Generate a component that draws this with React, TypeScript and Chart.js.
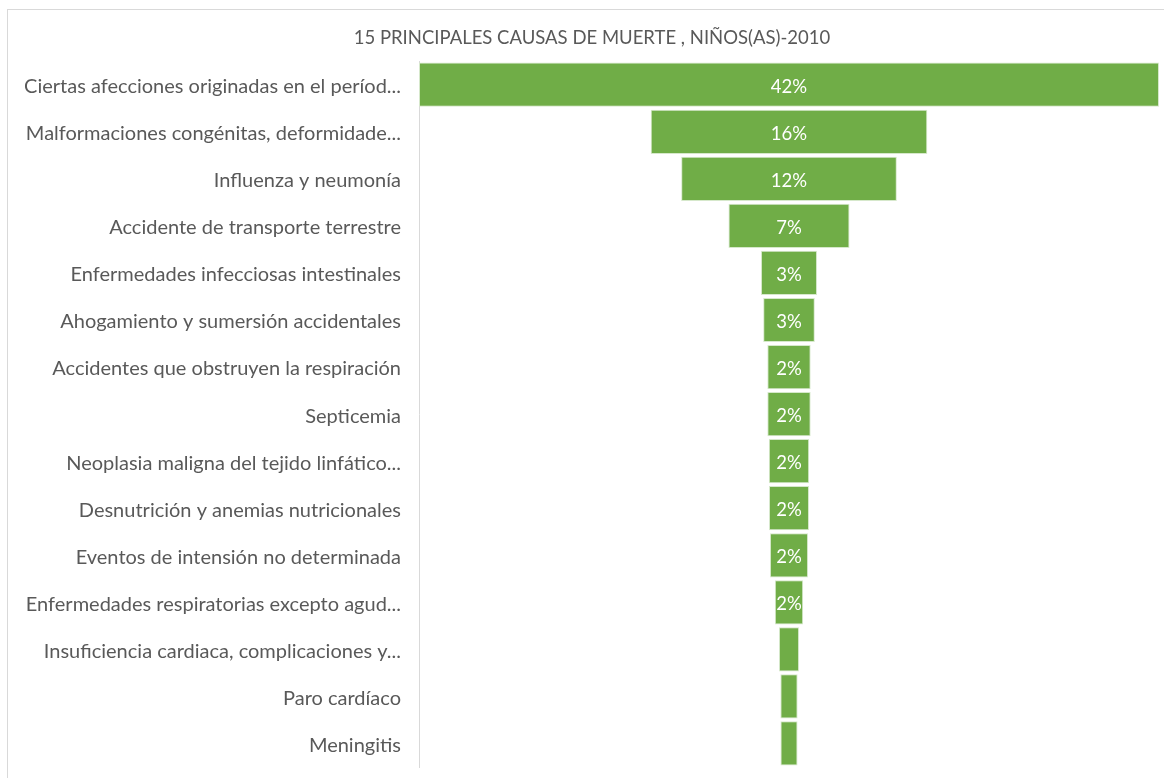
import React, { useEffect, useRef } from "react";
import { Chart, registerables } from "chart.js";

Chart.register(...registerables);

const TITLE = "15 PRINCIPALES CAUSAS DE MUERTE , NIÑOS(AS)-2010";

const categories = [
  "Ciertas afecciones originadas en el períod...",
  "Malformaciones congénitas, deformidade...",
  "Influenza y neumonía",
  "Accidente de transporte terrestre",
  "Enfermedades infecciosas intestinales",
  "Ahogamiento y sumersión accidentales",
  "Accidentes que obstruyen la respiración",
  "Septicemia",
  "Neoplasia maligna del tejido linfático...",
  "Desnutrición y anemias nutricionales",
  "Eventos de intensión no determinada",
  "Enfermedades respiratorias excepto agud...",
  "Insuficiencia cardiaca, complicaciones y...",
  "Paro cardíaco",
  "Meningitis",
];

const shares = [42, 15.7, 12.24, 6.87, 3.18, 2.93, 2.46, 2.46, 2.29, 2.27, 2.16, 1.61, 1.14, 0.98, 0.97];

const shareLabels = ["42%", "16%", "12%", "7%", "3%", "3%", "2%", "2%", "2%", "2%", "2%", "2%", "", "", ""];

const FONT = "Lato, 'Open Sans', sans-serif";

const labelPlugin = {
  id: "funnelLabels",
  afterDatasetsDraw(chart: any) {
    const ctx = chart.ctx;
    const meta = chart.getDatasetMeta(0);
    ctx.save();
    ctx.fillStyle = "#ffffff";
    ctx.font = `18.5px ${FONT}`;
    ctx.textAlign = "center";
    ctx.textBaseline = "middle";
    meta.data.forEach((bar: any, i: number) => {
      const t = shareLabels[i];
      if (!t) return;
      const cx = (bar.x + bar.base) / 2;
      ctx.fillText(t, cx, bar.y + 2);
    });
    ctx.restore();
  },
};

export default function App() {
  const ref = useRef<HTMLCanvasElement | null>(null);

  useEffect(() => {
    document.body.style.overflow = "hidden";
    if (!ref.current) return;
    const half = Math.max(...shares) / 2;
    const chart = new Chart(ref.current, {
      type: "bar",
      data: {
        labels: categories,
        datasets: [
          {
            data: shares.map((v) => [-v / 2, v / 2]) as any,
            backgroundColor: "#70AD47",
            borderColor: "#d6e8cb",
            borderWidth: 1,
            borderSkipped: false,
            categoryPercentage: 1,
            barPercentage: 0.94,
          },
        ],
      },
      options: {
        indexAxis: "y",
        animation: false,
        responsive: false,
        maintainAspectRatio: false,
        layout: { padding: { left: 17, right: 9, top: 0, bottom: 0 } },
        plugins: {
          legend: { display: false },
          tooltip: { enabled: false },
          title: {
            display: true,
            text: TITLE,
            color: "#595959",
            font: { family: FONT, size: 18.5, weight: "normal" },
            padding: { top: 17, bottom: 12 },
          },
        },
        scales: {
          x: {
            display: false,
            min: -half,
            max: half,
          },
          y: {
            grid: { display: false, drawTicks: false },
            border: { display: true, color: "#d9d9d9", width: 1 },
            ticks: {
              color: "#595959",
              font: { family: FONT, size: 20 },
              padding: 18,
              labelOffset: 2,
            },
            afterFit(scale: any) {
              scale.width = 394;
            },
          },
        },
      },
      plugins: [labelPlugin],
    });
    return () => chart.destroy();
  }, []);

  return (
    <div
      style={{
        position: "absolute",
        left: 7,
        top: 9,
        width: 1200,
        height: 820,
        border: "1px solid #d9d9d9",
        background: "#fff",
      }}
    >
      <canvas ref={ref} width={1160} height={787} style={{ display: "block" }} />
    </div>
  );
}
